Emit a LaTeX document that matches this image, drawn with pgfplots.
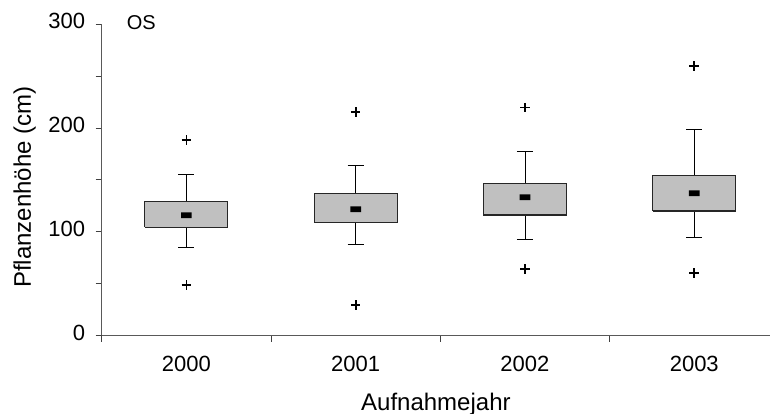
\documentclass[border=0pt]{standalone}
\usepackage{fontspec}
\setmainfont{Liberation Sans}
\usepackage{pgfplots}
\pgfplotsset{compat=1.18}
\definecolor{boxgray}{RGB}{192,192,192}
\begin{document}
\begin{tikzpicture}
\begin{axis}[
  scale only axis,
  width=677.2pt, height=311.2pt,
  xmin=-0.5, xmax=3.5,
  ymin=0, ymax=300,
  axis lines*=left,
  axis line style={black!65, line width=1pt},
  /pgf/number format/assume math mode=true,
  tick label style={font=\fontsize{22}{26}\selectfont, black},
  yticklabel style={xshift=-7pt, yshift=3pt},
  xticklabel style={yshift=-11pt},
  ytick={0,100,200,300},
  minor ytick={50,150,250},
  xtick={-0.5,0.5,1.5,2.5,3.5},
  x tick label as interval,
  xticklabels={2000,2001,2002,2003},
  tick align=outside,
  major tick length=6pt, minor tick length=6pt,
  every tick/.style={black!75, line width=0.8pt},
  xlabel={Aufnahmejahr},
  ylabel={Pflanzenhöhe (cm)},
  label style={font=\fontsize{24}{28}\selectfont},
  xlabel style={at={(axis description cs:0.4935,-0.2394)}, anchor=base},
  ylabel style={at={(axis description cs:-0.1138,0.477)}, anchor=center},
  unbounded coords=jump,
  clip=false,
]
% whiskers and caps
\addplot[black, line width=0.9pt, mark=none] coordinates {
  (0,85) (0,154.8) (0,nan) (-0.0475,85) (0.0475,85) (0,nan) (-0.0475,154.8) (0.0475,154.8) (0,nan)
  (1,87.3) (1,164) (1,nan) (0.9525,87.3) (1.0475,87.3) (1,nan) (0.9525,164) (1.0475,164) (1,nan)
  (2,92.8) (2,177.3) (2,nan) (1.9525,92.8) (2.0475,92.8) (2,nan) (1.9525,177.3) (2.0475,177.3) (2,nan)
  (3,94.7) (3,198.8) (3,nan) (2.9525,94.7) (3.0475,94.7) (3,nan) (2.9525,198.8) (3.0475,198.8)
};
% boxes (lower quartile, upper quartile)
\addplot[draw=black!85, fill=boxgray, line width=1.1pt, mark=none] coordinates {(-0.245,104.3) (0.245,104.3) (0.245,129) (-0.245,129) (-0.245,104.3)};
\addplot[draw=black!85, fill=boxgray, line width=1.1pt, mark=none] coordinates {(0.755,108.5) (1.245,108.5) (1.245,137) (0.755,137) (0.755,108.5)};
\addplot[draw=black!85, fill=boxgray, line width=1.1pt, mark=none] coordinates {(1.755,116.2) (2.245,116.2) (2.245,146.4) (1.755,146.4) (1.755,116.2)};
\addplot[draw=black!85, fill=boxgray, line width=1.1pt, mark=none] coordinates {(2.755,120) (3.245,120) (3.245,154.5) (2.755,154.5) (2.755,120)};
% medians
\addplot[draw=none, fill=black, mark=none] coordinates {
  (-0.0316,113.15) (0.0316,113.15) (0.0316,118.65) (-0.0316,118.65) (0,nan)
  (0.9684,118.95) (1.0316,118.95) (1.0316,124.45) (0.9684,124.45) (1,nan)
  (1.9684,130.45) (2.0316,130.45) (2.0316,135.95) (1.9684,135.95) (2,nan)
  (2.9684,134.35) (3.0316,134.35) (3.0316,139.85) (2.9684,139.85)
};
% outliers
\addplot[only marks, mark=+, mark size=4.8pt, mark options={black, line width=1.7pt}] coordinates {
  (0,188.5) (0,48.4) (1,215.5) (1,29.4) (2,219.7) (2,64.1) (3,259.9) (3,60)
};
\node[anchor=base west, inner sep=0pt, font=\fontsize{20}{24}\selectfont] at (axis description cs:0.0369,0.984) {OS};
\end{axis}
\pgfresetboundingbox
\path (-101.7pt,-78.5pt) rectangle (668.3pt,335.5pt);
\end{tikzpicture}
\end{document}
